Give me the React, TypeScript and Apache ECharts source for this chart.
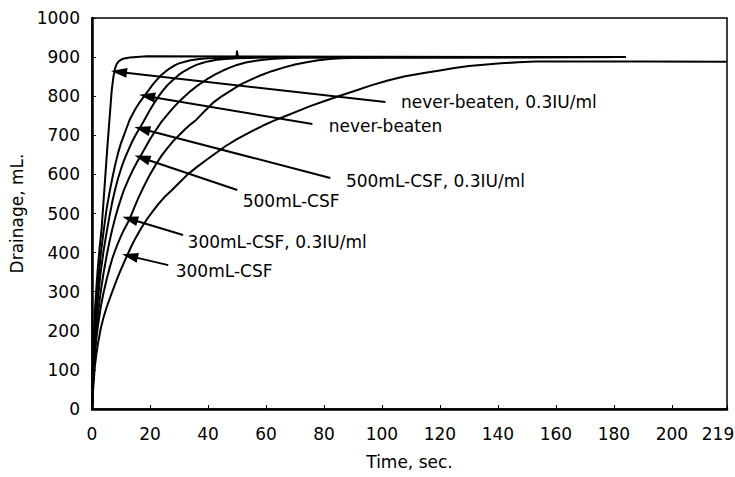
import React, { useEffect, useRef } from "react";
import * as echarts from "echarts";

const FONT = "DejaVu Sans";

const seriesNames = [
  "never-beaten, 0.3IU/ml",
  "never-beaten",
  "500mL-CSF, 0.3IU/ml",
  "500mL-CSF",
  "300mL-CSF, 0.3IU/ml",
  "300mL-CSF",
];

const X_MAX = 219;

// [time (sec), drainage (mL)]
const neverBeaten03: number[][] = [
  [0, 0], [0.3, 110], [0.6, 180], [1, 250], [1.5, 310], [2, 360], [2.6, 410], [3.3, 460],
  [4.5, 586], [5.3, 670], [6.2, 757], [6.8, 815], [7.4, 850], [8, 872], [8.5, 882],
  [9.3, 890], [10.7, 896], [13, 899], [19, 902], [100, 901], [184, 900],
];
const neverBeaten: number[][] = [
  [0, 0], [0.3, 90], [0.6, 150], [1, 215], [1.5, 270], [2, 315], [3, 395], [4, 455],
  [5, 510], [6, 552], [7, 590], [8, 625], [9, 655], [10, 680], [11, 700], [12, 720],
  [13, 740], [15, 768], [16.5, 785], [18, 800], [19.5, 815], [21, 830], [22.5, 843],
  [24, 855], [25.5, 864], [27, 872], [28.5, 879], [30, 884], [32, 888], [34, 892],
  [37, 895], [40, 897], [45, 898], [49.8, 899], [50, 915], [50.4, 899], [60, 900], [184, 900],
];
const csf500_03: number[][] = [
  [0, 0], [0.3, 75], [0.6, 130], [1, 190], [1.5, 240], [2, 280], [3, 350], [4, 405],
  [5, 450], [6, 492], [7, 530], [8, 562], [9, 590], [10, 614], [11, 635], [12, 653],
  [13, 670], [14, 686], [15, 700], [16, 713], [17, 725], [18.5, 745], [20, 765],
  [21.5, 783], [23, 800], [24.5, 815], [26, 828], [28, 842], [30, 855], [32, 865],
  [34, 873], [36, 880], [38, 885], [40, 889], [43, 893], [46, 895], [50, 897],
  [60, 899], [184, 900],
];
const csf500: number[][] = [
  [0, 0], [0.3, 60], [0.6, 105], [1, 160], [1.5, 205], [2, 240], [3, 300], [4, 348],
  [5, 390], [6, 427], [7, 460], [8, 489], [9, 515], [10, 538], [11, 560], [12.5, 586],
  [14, 610], [15.5, 631], [17, 650], [18.5, 670], [20, 690], [22, 713], [24, 735],
  [26, 753], [28, 770], [30, 786], [32, 800], [34, 813], [36, 825], [38, 835],
  [40, 845], [42.5, 856], [45, 865], [47.5, 873], [50, 880], [53, 886], [56, 890],
  [59, 893], [63, 896], [68, 898], [75, 899], [184, 900],
];
const csf300_03: number[][] = [
  [0, 0], [0.3, 55], [0.6, 95], [1, 140], [1.5, 180], [2, 210], [3, 260], [4, 298],
  [5, 330], [6, 359], [7, 385], [8, 406], [9, 425], [10, 442], [11, 458], [12, 472],
  [13, 486], [14.5, 514], [16, 540], [18, 571], [20, 600], [22, 625], [24, 648],
  [26, 667], [28, 685], [30, 700], [32, 715], [34, 728], [36, 740], [39, 763],
  [42, 785], [45, 801], [48, 815], [51, 829], [55, 843], [58, 853], [62, 864],
  [66, 873], [70, 881], [74, 887], [78, 892], [82, 895], [86, 897], [92, 898.5],
  [100, 899], [184, 900],
];
const csf300: number[][] = [
  [0, 0], [0.3, 40], [0.6, 72], [1, 110], [1.5, 140], [2, 165], [3, 205], [4, 235],
  [5, 259], [6, 280], [7, 300], [8, 320], [9, 339], [10, 357], [11, 374], [12, 391],
  [13.5, 415], [15, 437], [17, 463], [19, 486], [21, 506], [23, 525], [25, 542],
  [27.6, 560], [30, 578], [33, 600], [36, 618], [40, 640], [43, 656], [46, 672],
  [50, 690], [55, 710], [59, 725], [63, 738], [67, 750], [71, 762], [75, 774],
  [80, 787], [85, 800], [90, 812], [96, 827], [102, 840], [108, 851], [115, 860],
  [120, 866], [125, 872], [130, 877], [136, 881], [141, 884], [147, 887],
  [153, 888.5], [160, 889], [190, 889], [219, 888],
];

const curves = [neverBeaten03, neverBeaten, csf500_03, csf500, csf300_03, csf300];

// annotation arrows: tip on curve -> tail near label, and label anchors (data coords)
const arrowTips: number[][] = [
  [9.3, 862], [19, 800], [17.3, 716], [17.3, 642], [13.1, 486], [13.1, 391],
];
const arrowTails: number[][] = [
  [101.2, 785], [76, 729], [82.2, 591], [50.1, 560], [31.4, 445], [26.3, 368],
];
const labelAnchors: number[][] = [
  [106.4, 785], [81.5, 724], [87.4, 583], [51.8, 532], [32.8, 427], [28.7, 353],
];

export default function App() {
  const ref = useRef<HTMLDivElement>(null);
  useEffect(() => {
    if (!ref.current) return;
    const chart = echarts.init(ref.current, null, { renderer: "svg", width: 735, height: 477 });
    const series = curves.map((data, i) => ({
      name: seriesNames[i],
      type: "line",
      data,
      showSymbol: false,
      symbol: "none",
      smooth: false,
      lineStyle: { color: "#000", width: 2, join: "round" },
      markLine: {
        silent: true,
        animation: false,
        symbol: ["none", "none"],
        lineStyle: { color: "#000", width: 2, type: "solid" },
        label: { show: false },
        data: [
          [
            { coord: arrowTips[i], symbol: "triangle", symbolSize: [10, 16] },
            { coord: arrowTails[i], symbol: "none" },
          ],
        ],
      },
      markPoint: {
        silent: true,
        animation: false,
        symbol: "circle",
        symbolSize: 1,
        itemStyle: { color: "transparent" },
        label: {
          show: true,
          position: "right",
          distance: 0,
          formatter: seriesNames[i],
          color: "#000",
          fontSize: 17,
          fontFamily: FONT,
        },
        data: [{ coord: labelAnchors[i] }],
      },
    }));
    chart.setOption({
      animation: false,
      backgroundColor: "#fff",
      textStyle: { fontFamily: FONT, color: "#000" },
      grid: {
        left: 92,
        right: 8,
        top: 18,
        bottom: 68,
        containLabel: false,
        outerBoundsMode: "none",
        show: true,
        borderColor: "#000",
        borderWidth: 1.5,
        backgroundColor: "transparent",
      },
      xAxis: {
        type: "value",
        min: 0,
        max: X_MAX,
        interval: 20,
        name: "Time, sec.",
        nameLocation: "middle",
        nameGap: 44,
        nameTextStyle: { fontSize: 17, color: "#000", fontFamily: FONT },
        axisLine: { show: true, onZero: false, lineStyle: { color: "#000", width: 2.5 } },
        axisTick: { show: true, inside: true, length: 4, lineStyle: { color: "#000" } },
        axisLabel: {
          color: "#000",
          fontSize: 17,
          margin: 16,
          fontFamily: FONT,
          formatter: (v: number) => (v === X_MAX ? "{r|" + v + "}" : String(v)),
          rich: {
            r: { fontSize: 17, color: "#000", fontFamily: FONT, padding: [0, 18, 0, 0] },
          },
        },
        splitLine: { show: false },
      },
      yAxis: {
        type: "value",
        min: 0,
        max: 1000,
        interval: 100,
        name: "Drainage, mL.",
        nameLocation: "middle",
        nameGap: 54,
        nameTextStyle: { fontSize: 17, color: "#000", fontFamily: FONT },
        axisLine: { show: true, onZero: false, lineStyle: { color: "#000", width: 2.5 } },
        axisTick: { show: true, inside: true, length: 4, lineStyle: { color: "#000" } },
        axisLabel: {
          color: "#000",
          fontSize: 17,
          margin: 12,
          fontFamily: FONT,
          formatter: (v: number) => String(v),
        },
        splitLine: { show: false },
      },
      series,
    });
    return () => chart.dispose();
  }, []);
  return (
    <div
      ref={ref}
      style={{ position: "fixed", left: 0, top: 0, width: 735, height: 477, background: "#fff" }}
    />
  );
}
